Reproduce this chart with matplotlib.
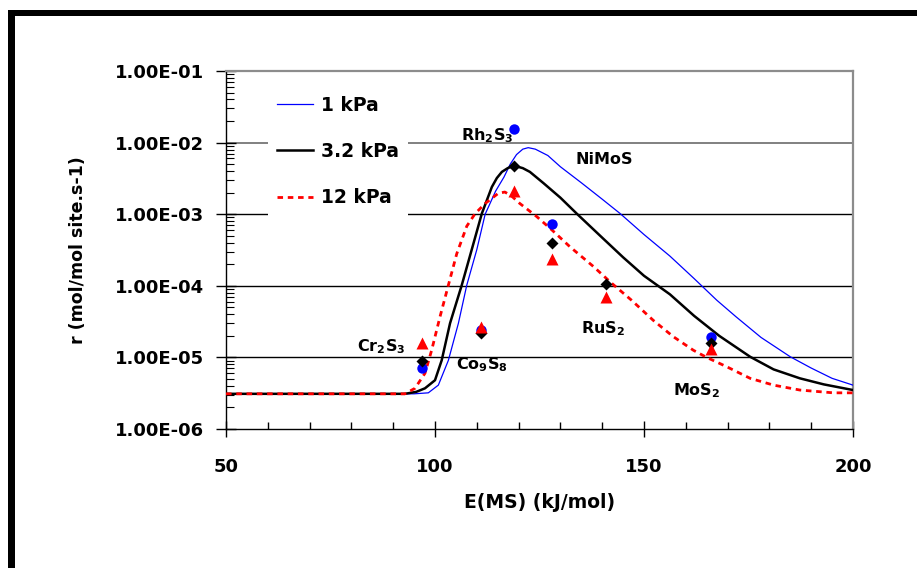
import numpy as np
import matplotlib
matplotlib.use("Agg")
import matplotlib.pyplot as plt
from matplotlib.patches import Rectangle
from matplotlib.ticker import LogLocator, MultipleLocator, NullFormatter, FixedLocator, FixedFormatter

plt.rcParams['font.family'] = ['DejaVu Sans']
plt.rcParams['font.weight'] = 'bold'
plt.rcParams['mathtext.fontset'] = 'custom'
plt.rcParams['mathtext.rm'] = 'DejaVu Sans:bold'
plt.rcParams['mathtext.it'] = 'DejaVu Sans:bold'
plt.rcParams['mathtext.bf'] = 'DejaVu Sans:bold'

# volcano curves: rate vs metal-sulfur bond energy, three H2S pressures
e_1kpa = [50, 95, 98.4, 100.8, 103.2, 105.6, 107.6, 110.0, 112.0, 114.5, 116.5, 118.0,
          119.5, 121.0, 122.3, 124.0, 127.0, 130.0, 135.0, 140.0, 144.3, 150.0, 156.2,
          162.0, 167.4, 172.0, 178.0, 185.0, 190.0, 195.0, 200.0]
r_1kpa = [3.1e-6, 3.1e-6, 3.2e-6, 4.1e-6, 9.1e-6, 3.0e-5, 1.02e-4, 3.2e-4, 1.0e-3, 2.1e-3,
          3.3e-3, 5.0e-3, 6.8e-3, 8.1e-3, 8.5e-3, 8.1e-3, 6.6e-3, 4.6e-3, 2.75e-3, 1.62e-3,
          1.02e-3, 5.2e-4, 2.6e-4, 1.26e-4, 6.3e-5, 3.7e-5, 1.9e-5, 1.02e-5, 7.1e-6, 5.1e-6,
          4.1e-6]

e_32kpa = [50, 92.8, 95.5, 97.6, 100.0, 101.6, 103.6, 106.4, 109.2, 111.2, 113.6, 114.8,
           116.0, 117.4, 118.7, 119.8, 121.0, 122.7, 126.0, 130.0, 133.9, 140.0, 145.0,
           150.0, 156.2, 162.0, 168.0, 175.4, 181.0, 187.3, 193.0, 200.0]
r_32kpa = [3.1e-6, 3.1e-6, 3.3e-6, 3.7e-6, 4.8e-6, 9.1e-6, 3.0e-5, 1.02e-4, 3.9e-4, 1.02e-3,
           2.4e-3, 3.2e-3, 3.9e-3, 4.4e-3, 4.7e-3, 4.6e-3, 4.4e-3, 3.9e-3, 2.7e-3, 1.7e-3,
           1.02e-3, 4.7e-4, 2.5e-4, 1.38e-4, 7.6e-5, 3.8e-5, 2.0e-5, 1.02e-5, 6.8e-6, 5.1e-6,
           4.2e-6, 3.5e-6]

e_12kpa = [50, 92.8, 95.2, 97.6, 99.2, 101.2, 103.2, 105.2, 107.6, 109.6, 112.0, 115.1,
           116.7, 118.2, 120.3, 124.3, 128.0, 132.3, 137.9, 142.0, 147.0, 152.2, 157.0,
           161.8, 165.0, 169.8, 175.4, 181.0, 187.3, 195.3, 200.0]
r_12kpa = [3.1e-6, 3.1e-6, 3.7e-6, 6.0e-6, 1.26e-5, 3.7e-5, 1.02e-4, 2.8e-4, 6.8e-4, 1.02e-3,
           1.41e-3, 1.95e-3, 2.04e-3, 1.82e-3, 1.41e-3, 9.3e-4, 6.0e-4, 3.5e-4, 1.86e-4,
           1.12e-4, 6.3e-5, 3.3e-5, 1.95e-5, 1.26e-5, 1.0e-5, 7.4e-6, 5.1e-6, 4.1e-6, 3.5e-6,
           3.2e-6, 3.2e-6]

# measured sulfides
e_pts_1kpa = [97, 111, 119, 128, 166]
r_pts_1kpa = [7.2e-6, 2.4e-5, 1.55e-2, 7.2e-4, 1.95e-5]
e_pts = [97, 111, 119, 128, 141, 166]
r_pts_32kpa = [8.9e-6, 2.2e-5, 4.7e-3, 3.9e-4, 1.07e-4, 1.6e-5]
r_pts_12kpa = [1.6e-5, 2.7e-5, 2.1e-3, 2.4e-4, 7.0e-5, 1.29e-5]

sulfides = [r'$\mathbf{Rh_2S_3}$', 'NiMoS', r'$\mathbf{Cr_2S_3}$', r'$\mathbf{Co_9S_8}$',
            r'$\mathbf{RuS_2}$', r'$\mathbf{MoS_2}$']
sulfide_pos = [(112.4, 1.24e-2), (140.4, 5.8e-3), (87.1, 1.4e-5), (111.2, 8.0e-6),
               (140.2, 2.5e-5), (162.7, 3.4e-6)]

y_ticks = [1e-6, 1e-5, 1e-4, 1e-3, 1e-2, 1e-1]
y_labels = ['1.00E-06', '1.00E-05', '1.00E-04', '1.00E-03', '1.00E-02', '1.00E-01']

fig = plt.figure(figsize=(9.17, 5.68), dpi=100)
ax = fig.add_axes([226 / 917, 1 - 429 / 568, 627 / 917, 358 / 568])

# frame around the figure
fig.add_artist(Rectangle((8 / 917, 1 - 15.5 / 568), 1, 6 / 568, transform=fig.transFigure,
                         facecolor='black', edgecolor='none'))
fig.add_artist(Rectangle((8 / 917, 0), 7 / 917, 1 - 9.5 / 568, transform=fig.transFigure,
                         facecolor='black', edgecolor='none'))

for yv in y_ticks[1:-1]:
    ax.axhline(yv, color='#808080' if yv == 1e-2 else 'black', lw=1.4 if yv == 1e-2 else 1.0,
               zorder=1)

ax.plot(e_1kpa, r_1kpa, color='#0000ff', lw=0.9, label='1 kPa', zorder=3)
ax.plot(e_32kpa, r_32kpa, color='black', lw=1.8, label='3.2 kPa', zorder=3)
ax.plot(e_12kpa, r_12kpa, color='#ff0000', lw=2.0, ls=(0, (2.0, 1.7)), label='12 kPa', zorder=3)

ax.plot(e_pts_1kpa, r_pts_1kpa, 'o', color='#0000ff', ms=7.5, mec='none', zorder=4)
ax.plot(e_pts, r_pts_32kpa, 'D', color='black', ms=6.5, mec='none', zorder=5)
ax.plot(e_pts, r_pts_12kpa, '^', color='#ff0000', ms=8.5, mec='none', zorder=6)

for txt, (xt, yt) in zip(sulfides, sulfide_pos):
    ax.text(xt, yt, txt, fontsize=11.5, fontweight='bold', ha='center', va='center', zorder=7)

ax.set_yscale('log')
ax.set_xlim(50, 200)
ax.set_ylim(1e-6, 1e-1)
ax.xaxis.set_major_locator(MultipleLocator(50))
ax.xaxis.set_minor_locator(MultipleLocator(10))
ax.yaxis.set_major_locator(FixedLocator(y_ticks))
ax.yaxis.set_major_formatter(FixedFormatter(y_labels))
ax.yaxis.set_minor_locator(LogLocator(base=10, subs=np.arange(2, 10)))
ax.yaxis.set_minor_formatter(NullFormatter())

ax.tick_params(axis='x', which='major', direction='inout', length=12, width=1, pad=15,
               labelsize=13)
ax.tick_params(axis='x', which='minor', direction='in', length=5, width=1)
ax.tick_params(axis='y', which='major', direction='inout', length=14, width=1, pad=9,
               labelsize=13)
ax.tick_params(axis='y', which='minor', direction='in', length=6, width=0.8)

for side in ['top', 'right']:
    ax.spines[side].set_color('#8c8c8c')
    ax.spines[side].set_linewidth(1.6)
for side in ['left', 'bottom']:
    ax.spines[side].set_color('black')
    ax.spines[side].set_linewidth(1.0)

ax.set_xlabel('E(MS) (kJ/mol)', fontsize=13.5, fontweight='bold', labelpad=12)
ax.set_ylabel('r (mol/mol site.s-1)', fontsize=12.5, fontweight='bold', labelpad=20)

leg = ax.legend(loc='upper left', bbox_to_anchor=(0.067, 0.957), borderaxespad=0,
                frameon=True, fancybox=False, framealpha=1, facecolor='white',
                edgecolor='none', fontsize=13.5, handlelength=1.9, handletextpad=0.4,
                labelspacing=1.45, borderpad=0.5)
leg.set_zorder(8)

fig.savefig('out.png', dpi=100, facecolor='white')
